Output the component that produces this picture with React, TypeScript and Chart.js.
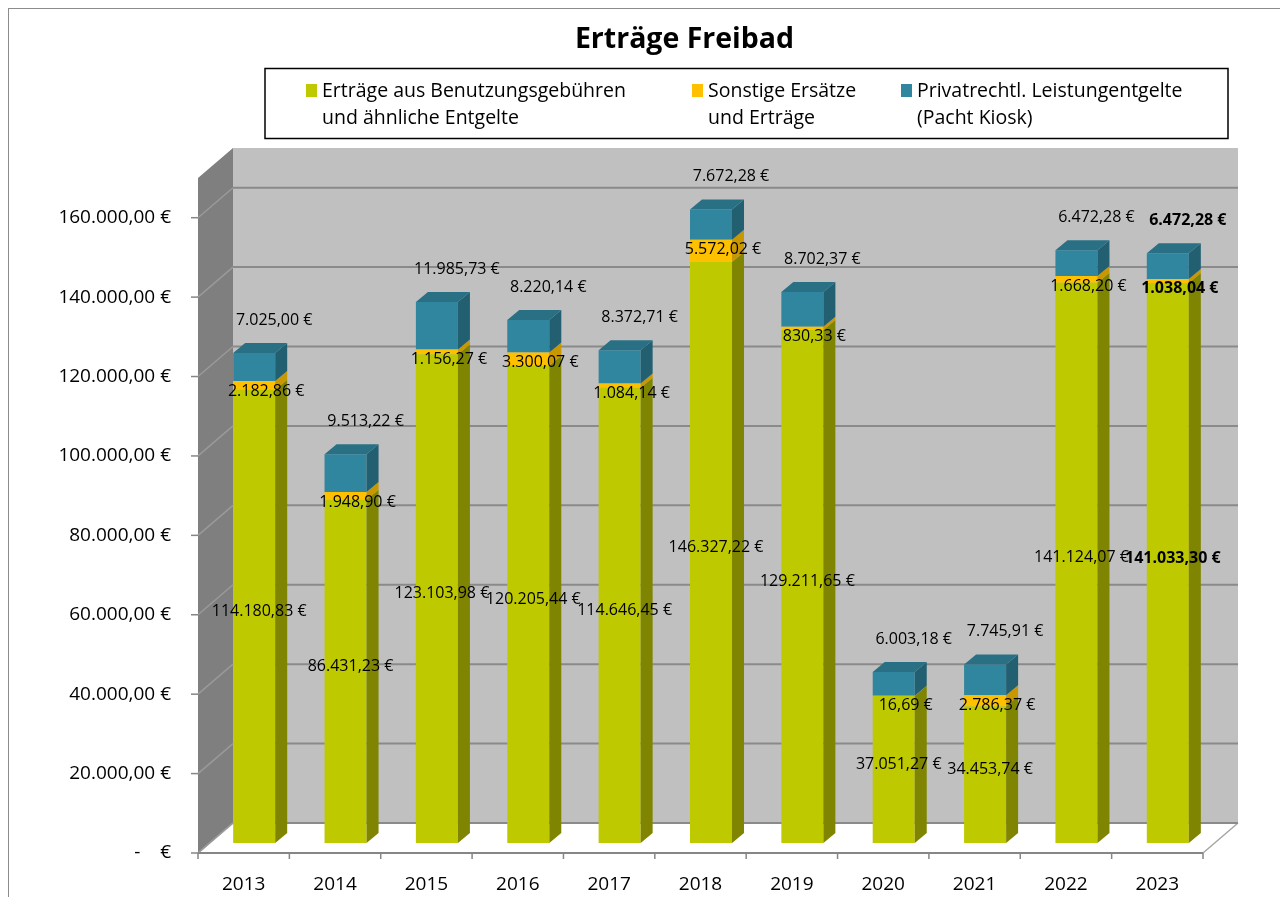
import React, { useEffect, useRef } from "react";
import { Chart, registerables } from "chart.js";

Chart.register(...registerables);

// ---------- data ----------
const categories = ["2013", "2014", "2015", "2016", "2017", "2018", "2019", "2020", "2021", "2022", "2023"];
const benutzungsgebuehren = [114180.83, 86431.23, 123103.98, 120205.44, 114646.45, 146327.22, 129211.65, 37051.27, 34453.74, 141124.07, 141033.3];
const sonstigeErsaetze = [2182.86, 1948.9, 1156.27, 3300.07, 1084.14, 5572.02, 830.33, 16.69, 2786.37, 1668.2, 1038.04];
const pachtKiosk = [7025.0, 9513.22, 11985.73, 8220.14, 8372.71, 7672.28, 8702.37, 6003.18, 7745.91, 6472.28, 6472.28];
const seriesNames = [
  ["Erträge aus Benutzungsgebühren", "und ähnliche Entgelte"],
  ["Sonstige Ersätze", "und Erträge"],
  ["Privatrechtl. Leistungentgelte", "(Pacht Kiosk)"],
];
const yTickValues = [0, 20000, 40000, 60000, 80000, 100000, 120000, 140000, 160000];
const chartTitle = "Erträge Freibad";
const boldCategory = "2023";

// ---------- styles ----------
const FONT = "'Open Sans', 'DejaVu Sans', sans-serif";
const frontColors = ["#BFC900", "#FFC000", "#31869F"];
const sideColors = ["#7F8500", "#C99700", "#225F70"];
const topColor = "#2A7085";

const DX = 35; // depth of walls
const DY = 30;
const BAR_SHIFT_X = 10.5;
const BAR_SHIFT_Y = -10;
const BAR_DX = 12;
const BAR_DY = 10;

function fmtEuro(v: number): string {
  if (v === 0) return "-    €";
  const fixed = v.toFixed(2);
  const [intPart, dec] = fixed.split(".");
  const intStr = intPart.replace(/\B(?=(\d{3})+(?!\d))/g, ".");
  return `${intStr},${dec} €`;
}

const threeDPlugin = {
  id: "threeD",
  beforeDatasetsDraw(chart: any) {
    const { ctx, chartArea: a, scales } = chart;
    const y = scales.y;
    const L = a.left, R = a.right, T = a.top, B = a.bottom;
    ctx.save();
    // back wall
    ctx.fillStyle = "#C0C0C0";
    ctx.fillRect(L + DX, T - DY, R - L, B - T);
    // side wall
    ctx.beginPath();
    ctx.moveTo(L, T);
    ctx.lineTo(L + DX, T - DY);
    ctx.lineTo(L + DX, B - DY);
    ctx.lineTo(L, B);
    ctx.closePath();
    ctx.fillStyle = "#7F7F7F";
    ctx.fill();
    // floor
    ctx.beginPath();
    ctx.moveTo(L, B);
    ctx.lineTo(L + DX, B - DY);
    ctx.lineTo(R + DX, B - DY);
    ctx.lineTo(R, B);
    ctx.closePath();
    ctx.fillStyle = "#FFFFFF";
    ctx.fill();
    ctx.strokeStyle = "#A6A6A6";
    ctx.lineWidth = 1.5;
    ctx.beginPath();
    ctx.moveTo(R, B);
    ctx.lineTo(R + DX, B - DY);
    ctx.moveTo(L, B);
    ctx.lineTo(L + DX, B - DY);
    ctx.stroke();
    // grid lines
    yTickValues.forEach((v) => {
      const py = y.getPixelForValue(v);
      ctx.strokeStyle = "#8A8A8A";
      ctx.lineWidth = 2;
      ctx.beginPath();
      ctx.moveTo(L + DX, py - DY);
      ctx.lineTo(R + DX, py - DY);
      ctx.stroke();
      ctx.strokeStyle = "#9A9A9A";
      ctx.lineWidth = 1.5;
      ctx.beginPath();
      ctx.moveTo(L, py);
      ctx.lineTo(L + DX, py - DY);
      ctx.stroke();
      // tick marks on value axis
      ctx.strokeStyle = "#868686";
      ctx.lineWidth = 1.5;
      ctx.beginPath();
      ctx.moveTo(L - 7, py);
      ctx.lineTo(L, py);
      ctx.stroke();
    });
    // category axis
    ctx.strokeStyle = "#868686";
    ctx.lineWidth = 2;
    ctx.beginPath();
    ctx.moveTo(L, B);
    ctx.lineTo(R, B);
    ctx.stroke();
    const n = categories.length;
    ctx.lineWidth = 1.5;
    ctx.beginPath();
    for (let i = 0; i <= n; i++) {
      const px = L + (i * (R - L)) / n;
      ctx.moveTo(px, B);
      ctx.lineTo(px, B + 6);
    }
    ctx.stroke();
    ctx.restore();
    ctx.save();
    ctx.translate(BAR_SHIFT_X, BAR_SHIFT_Y);
  },
  afterDatasetsDraw(chart: any) {
    const { ctx } = chart;
    const nDs = chart.data.datasets.length;
    // side & top faces (still translated)
    for (let i = 0; i < nDs; i++) {
      const meta = chart.getDatasetMeta(i);
      meta.data.forEach((bar: any) => {
        const { x, y, base, width } = bar.getProps(["x", "y", "base", "width"], true);
        const top = Math.min(y, base);
        const bot = Math.max(y, base);
        const xl = x - width / 2;
        const xr = x + width / 2;
        ctx.beginPath();
        ctx.moveTo(xr, top);
        ctx.lineTo(xr + BAR_DX, top - BAR_DY);
        ctx.lineTo(xr + BAR_DX, bot - BAR_DY);
        ctx.lineTo(xr, bot);
        ctx.closePath();
        ctx.fillStyle = sideColors[i];
        ctx.fill();
        if (i === nDs - 1) {
          ctx.beginPath();
          ctx.moveTo(xl, top);
          ctx.lineTo(xl + BAR_DX, top - BAR_DY);
          ctx.lineTo(xr + BAR_DX, top - BAR_DY);
          ctx.lineTo(xr, top);
          ctx.closePath();
          ctx.fillStyle = topColor;
          ctx.fill();
        }
      });
    }
    // data labels
    ctx.textAlign = "center";
    ctx.textBaseline = "middle";
    ctx.fillStyle = "#000000";
    for (let i = 0; i < nDs; i++) {
      const meta = chart.getDatasetMeta(i);
      const values = chart.data.datasets[i].data as number[];
      meta.data.forEach((bar: any, j: number) => {
        const { x, y, base } = bar.getProps(["x", "y", "base"], true);
        const top = Math.min(y, base);
        const bot = Math.max(y, base);
        let lx = x, ly = y;
        if (i === 0) { lx = x + 5; ly = (top + bot) / 2 - 5; }
        else if (i === 1) { lx = x + 12; ly = top + 10; }
        else { lx = x + 20; ly = top - 33; }
        const bold = categories[j] === boldCategory;
        ctx.font = `${bold ? "bold " : ""}16px ${FONT}`;
        ctx.fillText(fmtEuro(values[j]), lx, ly);
      });
    }
    ctx.restore();
  },
  afterDraw(chart: any) {
    const { ctx } = chart;
    ctx.save();
    // title
    ctx.fillStyle = "#000";
    ctx.textAlign = "center";
    ctx.textBaseline = "middle";
    ctx.font = `bold 28.5px ${FONT}`;
    ctx.fillText(chartTitle, 675.5, 31);
    // legend box
    ctx.strokeStyle = "#000";
    ctx.lineWidth = 1.5;
    ctx.strokeRect(256, 59.5, 963, 70);
    const itemX = [297, 683, 892];
    ctx.font = `19.5px ${FONT}`;
    ctx.textAlign = "left";
    seriesNames.forEach((lines, i) => {
      ctx.fillStyle = frontColors[i];
      ctx.fillRect(itemX[i], 75, 11, 13);
      ctx.fillStyle = "#000";
      lines.forEach((ln, k) => {
        ctx.fillText(ln, itemX[i] + 16, 82 + k * 27);
      });
    });
    ctx.restore();
  },
};

export default function App() {
  const canvasRef = useRef<HTMLCanvasElement | null>(null);

  useEffect(() => {
    if (!canvasRef.current) return;
    const chart = new Chart(canvasRef.current, {
      type: "bar",
      data: {
        labels: categories,
        datasets: [
          { label: seriesNames[0].join(" "), data: benutzungsgebuehren, backgroundColor: frontColors[0] },
          { label: seriesNames[1].join(" "), data: sonstigeErsaetze, backgroundColor: frontColors[1] },
          { label: seriesNames[2].join(" "), data: pachtKiosk, backgroundColor: frontColors[2] },
        ],
      },
      options: {
        animation: false,
        responsive: false,
        devicePixelRatio: 1,
        events: [],
        layout: { padding: { top: 169, right: 78, left: 0, bottom: 0 } },
        datasets: { bar: { categoryPercentage: 0.46, barPercentage: 1, borderWidth: 0, clip: false } as any },
        plugins: {
          legend: { display: false },
          title: { display: false },
          tooltip: { enabled: false },
        },
        scales: {
          x: {
            stacked: true,
            grid: { display: false, drawTicks: false },
            border: { display: false },
            ticks: { color: "#000", font: { family: FONT, size: 19 }, padding: 20, maxRotation: 0, autoSkip: false },
            afterFit(s: any) { s.height = 46; },
          },
          y: {
            stacked: true,
            min: 0,
            max: 170000,
            grid: { display: false, drawTicks: false },
            border: { display: false },
            ticks: {
              color: "#000",
              font: { family: FONT, size: 19 },
              padding: 27,
              autoSkip: false,
              callback: (v: any) => fmtEuro(Number(v)),
            },
            afterBuildTicks(s: any) {
              s.ticks = yTickValues.map((v) => ({ value: v }));
            },
            afterFit(s: any) { s.width = 189; },
          },
        },
      },
      plugins: [threeDPlugin],
    });
    return () => chart.destroy();
  }, []);

  return (
    <div style={{ border: "1px solid #8C8C8C", width: 1272, height: 890, background: "#fff" }}>
      <canvas ref={canvasRef} width={1272} height={890} style={{ display: "block" }} />
    </div>
  );
}
